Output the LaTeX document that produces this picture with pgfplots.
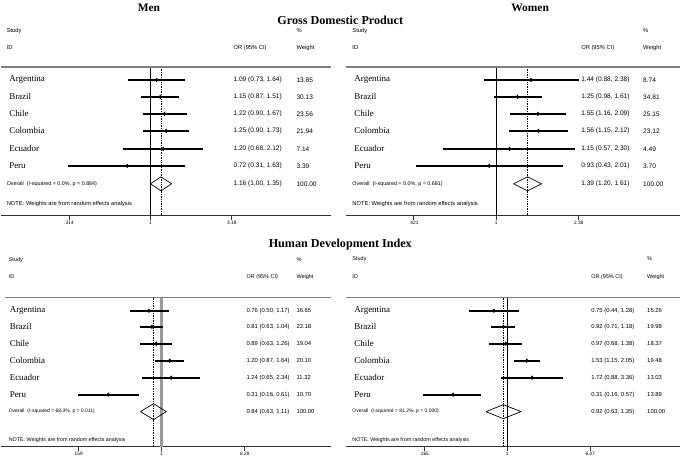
\documentclass[border=0pt]{standalone}
\usepackage{pgfplots}
\pgfplotsset{compat=1.18}
\usepackage{fontspec}
\setmainfont{Liberation Serif}
\newfontfamily\arial{Liberation Sans}

\pgfplotsset{
  fpanel/.style={
    scale only axis, clip=false,
    axis x line=bottom, axis y line=none, ytick=\empty,
    x axis line style={-, draw=black!80, line width=0.7bp},
    xtick style={draw=black!80, line width=0.7bp},
    tick align=outside, major tick length=4bp, xminorticks=false,
    xticklabel style={font=\arial\fontsize{4.8}{5}\selectfont, inner sep=1.5bp},
  },
}
\tikzset{
  cistyle/.style={line width=1.8bp, draw=black},
  nullstyle/.style={black, line width=0.7bp},
  ovstyle/.style={black, densely dotted, line width=0.7bp},
  diastyle/.style={black, line width=0.7bp},
  sepline/.style={black!50, line width=1.2bp},
}

% text helpers
\newcommand\lab[3]{\node[anchor=west,inner sep=0pt,font=\fontsize{9}{10}\selectfont] at (#1bp,-#2bp) {#3};}
\newcommand\sm[4]{\node[anchor=west,inner sep=0pt,font=\arial\fontsize{#1}{#1}\selectfont] at (#2bp,-#3bp) {#4};}
\newcommand\ttl[4]{\node[inner sep=0pt,font=\bfseries\fontsize{#1}{#1}\selectfont] at (#2bp,-#3bp) {#4};}

\begin{document}
\begin{tikzpicture}
\path (0bp,0bp) rectangle (685bp,-461bp);

% ---------------- Men, GDP ----------------
\begin{axis}[xmode=log, fpanel, at={(0bp,0bp)}, anchor=north west, width=331bp, height=216bp,
  xmin=0.1187, xmax=13.08, ymin=-216, ymax=0,
  xtick={0.314,1,3.18}, xticklabels={.314,1,3.18}]
\addplot[nullstyle] coordinates {(1,-67) (1,-216)};
\addplot[ovstyle] coordinates {(1.16,-67) (1.16,-216)};
\addplot[cistyle] coordinates {(0.73,-80) (1.64,-80)};
\addplot[cistyle] coordinates {(0.87,-97) (1.51,-97)};
\addplot[cistyle] coordinates {(0.90,-114) (1.67,-114)};
\addplot[cistyle] coordinates {(0.90,-131) (1.73,-131)};
\addplot[cistyle] coordinates {(0.68,-149) (2.12,-149)};
\addplot[cistyle] coordinates {(0.31,-166) (1.63,-166)};
\addplot[only marks, mark=diamond*, mark size=1.9bp, black] coordinates {(1.09,-80) (1.15,-97) (1.22,-114) (1.25,-131) (1.20,-149) (0.72,-166)};
\addplot[diastyle] coordinates {(1.00,-184) (1.16,-177) (1.35,-184) (1.16,-191) (1.00,-184)};
\end{axis}

% ---------------- Women, GDP ----------------
\begin{axis}[xmode=log, fpanel, at={(346bp,0bp)}, anchor=north west, width=334bp, height=216bp,
  xmin=0.2072, xmax=6.895, ymin=-216, ymax=0,
  xtick={0.421,1,2.38}, xticklabels={.421,1,2.38}]
\addplot[nullstyle] coordinates {(1,-67) (1,-216)};
\addplot[ovstyle] coordinates {(1.39,-67) (1.39,-216)};
\addplot[cistyle] coordinates {(0.88,-80) (2.38,-80)};
\addplot[cistyle] coordinates {(0.98,-97) (1.61,-97)};
\addplot[cistyle] coordinates {(1.16,-114) (2.09,-114)};
\addplot[cistyle] coordinates {(1.15,-131) (2.12,-131)};
\addplot[cistyle] coordinates {(0.57,-149) (2.30,-149)};
\addplot[cistyle] coordinates {(0.43,-166) (2.01,-166)};
\addplot[only marks, mark=diamond*, mark size=1.9bp, black] coordinates {(1.44,-80) (1.25,-97) (1.55,-114) (1.56,-131) (1.15,-149) (0.93,-166)};
\addplot[diastyle] coordinates {(1.20,-184) (1.39,-177) (1.61,-184) (1.39,-191) (1.20,-184)};
\end{axis}

% ---------------- Men, HDI ----------------
\begin{axis}[xmode=log, fpanel, at={(0bp,-230bp)}, anchor=north west, width=331bp, height=217bp,
  xmin=0.02884, xmax=42.3, ymin=-447, ymax=-230,
  xtick={0.159,1,6.28}, xticklabels={.159,1,6.28}]
\addplot[gray!80, line width=2.4bp] coordinates {(1,-298) (1,-447)};
\addplot[ovstyle] coordinates {(0.84,-298) (0.84,-447)};
\addplot[cistyle] coordinates {(0.50,-311) (1.17,-311)};
\addplot[cistyle] coordinates {(0.63,-327) (1.04,-327)};
\addplot[cistyle] coordinates {(0.63,-344) (1.26,-344)};
\addplot[cistyle] coordinates {(0.87,-361) (1.64,-361)};
\addplot[cistyle] coordinates {(0.65,-378) (2.34,-378)};
\addplot[cistyle] coordinates {(0.16,-395) (0.61,-395)};
\addplot[only marks, mark=diamond*, mark size=1.9bp, black] coordinates {(0.76,-311) (0.81,-327) (0.89,-344) (1.20,-361) (1.24,-378) (0.31,-395)};
\addplot[diastyle] coordinates {(0.63,-412) (0.84,-404) (1.11,-412) (0.84,-420) (0.63,-412)};
\end{axis}

% ---------------- Women, HDI ----------------
\begin{axis}[xmode=log, fpanel, at={(346bp,-230bp)}, anchor=north west, width=334bp, height=217bp,
  xmin=0.03042, xmax=42.6, ymin=-447, ymax=-230,
  xtick={0.165,1,6.07}, xticklabels={.165,1,6.07}]
\addplot[nullstyle] coordinates {(1,-298) (1,-447)};
\addplot[ovstyle] coordinates {(0.92,-298) (0.92,-447)};
\addplot[cistyle] coordinates {(0.44,-311) (1.28,-311)};
\addplot[cistyle] coordinates {(0.71,-327) (1.18,-327)};
\addplot[cistyle] coordinates {(0.68,-344) (1.38,-344)};
\addplot[cistyle] coordinates {(1.15,-361) (2.05,-361)};
\addplot[cistyle] coordinates {(0.88,-378) (3.36,-378)};
\addplot[cistyle] coordinates {(0.16,-395) (0.57,-395)};
\addplot[only marks, mark=diamond*, mark size=1.9bp, black] coordinates {(0.75,-311) (0.92,-327) (0.97,-344) (1.53,-361) (1.72,-378) (0.31,-395)};
\addplot[diastyle] coordinates {(0.63,-412) (0.92,-405) (1.35,-412) (0.92,-419) (0.63,-412)};
\end{axis}

% ---------------- titles ----------------
\ttl{11.5}{148.5}{8}{Men}
\ttl{11.5}{530}{8}{Women}
\ttl{12.2}{340}{20}{Gross Domestic Product}
\ttl{12.2}{340}{245}{Human Development Index}

% separators
\draw[sepline] (0bp,-67bp) -- (331bp,-67bp);
\draw[sepline] (346bp,-67bp) -- (680bp,-67bp);
\draw[sepline] (4bp,-298bp) -- (331bp,-298bp);
\draw[sepline] (346bp,-298bp) -- (680bp,-298bp);

% ---------------- table text: Men, GDP ----------------
\sm{5.8}{6}{31}{Study}\sm{5.8}{6}{48}{ID}
\sm{5.8}{233}{48}{OR (95\% CI)}\sm{5.8}{296}{31}{\%}\sm{5.8}{296}{48}{Weight}
\lab{8.5}{80}{Argentina}\sm{6.6}{233}{80}{1.09 (0.73, 1.64)}\sm{6.6}{296}{80}{13.85}
\lab{8.5}{97}{Brazil}\sm{6.6}{233}{97}{1.15 (0.87, 1.51)}\sm{6.6}{296}{97}{30.13}
\lab{8.5}{114}{Chile}\sm{6.6}{233}{114}{1.22 (0.90, 1.67)}\sm{6.6}{296}{114}{23.56}
\lab{8.5}{131}{Colombia}\sm{6.6}{233}{131}{1.25 (0.90, 1.73)}\sm{6.6}{296}{131}{21.94}
\lab{8.5}{149}{Ecuador}\sm{6.6}{233}{149}{1.20 (0.68, 2.12)}\sm{6.6}{296}{149}{7.14}
\lab{8.5}{166}{Peru}\sm{6.6}{233}{166}{0.72 (0.31, 1.63)}\sm{6.6}{296}{166}{3.39}
\sm{5.4}{6}{184}{Overall~ (I-squared = 0.0\%, p = 0.884)}\sm{6.6}{233}{184}{1.16 (1.00, 1.35)}\sm{6.6}{296}{184}{100.00}
\sm{5.8}{6}{204}{NOTE: Weights are from random effects analysis}

% ---------------- table text: Women, GDP ----------------
\sm{5.8}{352}{31}{Study}\sm{5.8}{352}{48}{ID}
\sm{5.8}{581}{48}{OR (95\% CI)}\sm{5.8}{643}{31}{\%}\sm{5.8}{643}{48}{Weight}
\lab{354}{80}{Argentina}\sm{6.6}{581}{80}{1.44 (0.88, 2.38)}\sm{6.6}{643}{80}{8.74}
\lab{354}{97}{Brazil}\sm{6.6}{581}{97}{1.25 (0.98, 1.61)}\sm{6.6}{643}{97}{34.81}
\lab{354}{114}{Chile}\sm{6.6}{581}{114}{1.55 (1.16, 2.09)}\sm{6.6}{643}{114}{25.15}
\lab{354}{131}{Colombia}\sm{6.6}{581}{131}{1.56 (1.15, 2.12)}\sm{6.6}{643}{131}{23.12}
\lab{354}{149}{Ecuador}\sm{6.6}{581}{149}{1.15 (0.57, 2.30)}\sm{6.6}{643}{149}{4.49}
\lab{354}{166}{Peru}\sm{6.6}{581}{166}{0.93 (0.43, 2.01)}\sm{6.6}{643}{166}{3.70}
\sm{5.4}{352}{184}{Overall~ (I-squared = 0.0\%, p = 0.681)}\sm{6.6}{581}{184}{1.39 (1.20, 1.61)}\sm{6.6}{643}{184}{100.00}
\sm{5.8}{352}{204}{NOTE: Weights are from random effects analysis}

% ---------------- table text: Men, HDI ----------------
\sm{5.5}{8}{260}{Study}\sm{5.5}{8}{277}{ID}
\sm{5.5}{246}{277}{OR (95\% CI)}\sm{5.5}{296}{260}{\%}\sm{5.5}{296}{277}{Weight}
\lab{9}{311}{Argentina}\sm{5.9}{246}{311}{0.76 (0.50, 1.17)}\sm{5.9}{296}{311}{16.65}
\lab{9}{327}{Brazil}\sm{5.9}{246}{327}{0.81 (0.63, 1.04)}\sm{5.9}{296}{327}{22.18}
\lab{9}{344}{Chile}\sm{5.9}{246}{344}{0.89 (0.63, 1.26)}\sm{5.9}{296}{344}{19.04}
\lab{9}{361}{Colombia}\sm{5.9}{246}{361}{1.20 (0.87, 1.64)}\sm{5.9}{296}{361}{20.10}
\lab{9}{378}{Ecuador}\sm{5.9}{246}{378}{1.24 (0.65, 2.34)}\sm{5.9}{296}{378}{11.32}
\lab{9}{395}{Peru}\sm{5.9}{246}{395}{0.31 (0.16, 0.61)}\sm{5.9}{296}{395}{10.70}
\sm{5.0}{8}{412}{Overall~ (I-squared = 68.3\%, p = 0.011)}\sm{5.9}{246}{412}{0.84 (0.63, 1.11)}\sm{5.9}{296}{412}{100.00}
\sm{5.4}{8}{440}{NOTE: Weights are from random effects analysis}

% ---------------- table text: Women, HDI ----------------
\sm{5.5}{352}{259}{Study}\sm{5.5}{352}{277}{ID}
\sm{5.5}{591}{277}{OR (95\% CI)}\sm{5.5}{647}{259}{\%}\sm{5.5}{647}{277}{Weight}
\lab{354}{311}{Argentina}\sm{5.9}{591}{311}{0.75 (0.44, 1.28)}\sm{5.9}{647}{311}{15.26}
\lab{354}{327}{Brazil}\sm{5.9}{591}{327}{0.92 (0.71, 1.18)}\sm{5.9}{647}{327}{19.98}
\lab{354}{344}{Chile}\sm{5.9}{591}{344}{0.97 (0.68, 1.38)}\sm{5.9}{647}{344}{18.37}
\lab{354}{361}{Colombia}\sm{5.9}{591}{361}{1.53 (1.15, 2.05)}\sm{5.9}{647}{361}{19.48}
\lab{354}{378}{Ecuador}\sm{5.9}{591}{378}{1.72 (0.88, 3.36)}\sm{5.9}{647}{378}{13.03}
\lab{354}{395}{Peru}\sm{5.9}{591}{395}{0.31 (0.16, 0.57)}\sm{5.9}{647}{395}{13.89}
\sm{5.0}{352}{412}{Overall~ (I-squared = 81.2\%, p = 0.000)}\sm{5.9}{591}{412}{0.92 (0.63, 1.35)}\sm{5.9}{647}{412}{100.00}
\sm{5.4}{352}{440}{NOTE: Weights are from random effects analysis}
\end{tikzpicture}
\end{document}
